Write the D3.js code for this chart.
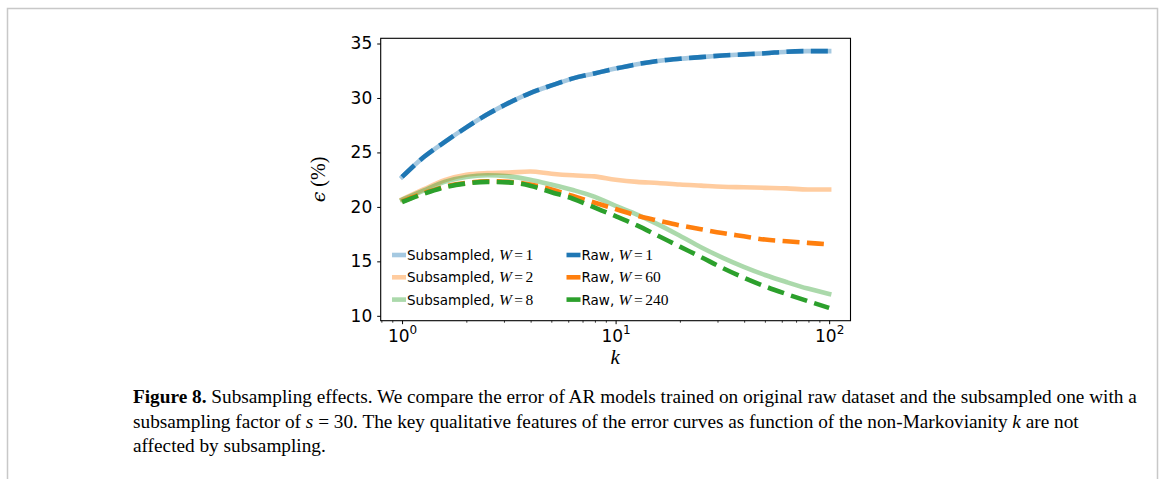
<!DOCTYPE html>
<html>
<head>
<meta charset="utf-8">
<script src="https://cdn.jsdelivr.net/npm/d3@7"></script>
<style>
  html, body { margin: 0; padding: 0; background: #ffffff; }
  svg { display: block; }
</style>
</head>
<body>
<svg id="chart" width="1165" height="479"></svg>
<script>
// ---------------- data ----------------
const kValues = [1, 1.26, 1.58, 2, 2.51, 3.16, 3.98, 5.01, 6.31, 7.94, 10, 12.6, 15.8, 20, 25.1, 31.6, 39.8, 50.1, 63.1, 79.4, 100];

const subW1  = [22.75, 24.55, 25.95, 27.3, 28.5, 29.55, 30.45, 31.15, 31.8, 32.25, 32.7, 33.1, 33.4, 33.6, 33.75, 33.9, 34.0, 34.1, 34.25, 34.3, 34.3];
const subW2  = [20.7, 21.6, 22.45, 22.95, 23.1, 23.15, 23.25, 23.05, 22.9, 22.8, 22.5, 22.3, 22.2, 22.05, 21.95, 21.85, 21.8, 21.75, 21.7, 21.6, 21.6];
const subW8  = [20.65, 21.5, 22.3, 22.75, 22.9, 22.8, 22.5, 22.05, 21.55, 20.95, 20.1, 19.3, 18.4, 17.35, 16.3, 15.35, 14.5, 13.75, 13.1, 12.5, 12.0];
const rawW1  = [22.75, 24.55, 25.95, 27.3, 28.5, 29.55, 30.45, 31.15, 31.8, 32.25, 32.7, 33.1, 33.4, 33.6, 33.75, 33.9, 34.0, 34.1, 34.25, 34.3, 34.3];
const rawW60 = [20.5, 21.25, 21.85, 22.2, 22.35, 22.3, 22.05, 21.6, 21.0, 20.4, 19.8, 19.2, 18.75, 18.3, 17.95, 17.6, 17.3, 17.0, 16.85, 16.7, 16.55];
const rawW240= [20.45, 21.2, 21.8, 22.15, 22.3, 22.25, 21.95, 21.35, 20.75, 19.95, 19.15, 18.3, 17.35, 16.35, 15.4, 14.4, 13.5, 12.7, 12.0, 11.35, 10.73];

const seriesNames = ["Subsampled", "Subsampled", "Subsampled", "Raw", "Raw", "Raw"];
const seriesW = ["1", "2", "8", "1", "60", "240"];
const yTickValues = [10, 15, 20, 25, 30, 35];
const xMajorTicks = [1, 10, 100];

const captionLines = [
  [{t: "Figure 8.", b: true}, {t: " Subsampling effects. We compare the error of AR models trained on original raw dataset and the subsampled one with a"}],
  [{t: "subsampling factor of "}, {t: "s", i: true}, {t: " = 30. The key qualitative features of the error curves as function of the non-Markovianity "}, {t: "k", i: true}, {t: " are not"}],
  [{t: "affected by subsampling."}]
];

// ---------------- layout ----------------
const svg = d3.select("#chart");
const L = 380.7, R = 850.5, T = 38.3, B = 320.7;

// page frame
svg.append("path")
  .attr("d", `M7.5,479 L7.5,8.5 L1157.5,8.5 L1157.5,479`)
  .attr("fill", "none").attr("stroke", "#c8c8c8").attr("stroke-width", 1.5);

// scales with matplotlib-like 5% margins
const allVals = [].concat(subW1, subW2, subW8, rawW1, rawW60, rawW240);
const yMin = d3.min(allVals), yMax = d3.max(allVals);
const yPad = (yMax - yMin) * 0.05;
const lx0 = Math.log10(d3.min(kValues)), lx1 = Math.log10(d3.max(kValues));
const xPad = (lx1 - lx0) * 0.05;
const x = d3.scaleLog().domain([Math.pow(10, lx0 - xPad), Math.pow(10, lx1 + xPad)]).range([L, R]);
const y = d3.scaleLinear().domain([yMin - yPad, yMax + yPad]).range([B, T]);

const blue = "#1f77b4", orange = "#ff7f0e", green = "#2ca02c";
const series = [
  {vals: subW1, color: blue, dashed: false},
  {vals: subW2, color: orange, dashed: false},
  {vals: subW8, color: green, dashed: false},
  {vals: rawW1, color: blue, dashed: true},
  {vals: rawW60, color: orange, dashed: true},
  {vals: rawW240, color: green, dashed: true}
];

const line = d3.line().curve(d3.curveMonotoneX).x((d, i) => x(kValues[i])).y(d => y(d));
svg.append("clipPath").attr("id", "plotclip").append("rect")
  .attr("x", L).attr("y", T).attr("width", R - L).attr("height", B - T);
const plot = svg.append("g").attr("clip-path", "url(#plotclip)");

series.forEach(s => {
  const p = plot.append("path")
    .datum(s.vals)
    .attr("d", line)
    .attr("fill", "none")
    .attr("stroke", s.color)
    .attr("stroke-width", 4.6)
    .attr("stroke-linejoin", "round");
  if (s.dashed) {
    p.attr("stroke-dasharray", "17 7.4").attr("stroke-linecap", "butt");
  } else {
    p.attr("stroke-opacity", 0.4).attr("stroke-linecap", "square");
  }
});

// ---------------- axes ----------------
const tickFont = "'DejaVu Sans', sans-serif";
const yAxis = svg.append("g").attr("transform", `translate(${L},0)`)
  .call(d3.axisLeft(y).tickValues(yTickValues).tickSize(3.5).tickPadding(5).tickFormat(d3.format("d")));
yAxis.select(".domain").remove();
yAxis.selectAll("line").attr("stroke", "#000").attr("stroke-width", 1);
yAxis.selectAll("text").attr("font-family", tickFont).attr("font-size", 17).attr("fill", "#000");

const minorTicks = x.ticks().filter(v => !xMajorTicks.includes(v));
const xMinor = svg.append("g").attr("transform", `translate(0,${B})`)
  .call(d3.axisBottom(x).tickValues(minorTicks).tickSize(2).tickFormat(""));
xMinor.select(".domain").remove();
xMinor.selectAll("line").attr("stroke", "#000").attr("stroke-width", 0.8);

const xAxis = svg.append("g").attr("transform", `translate(0,${B})`)
  .call(d3.axisBottom(x).tickValues(xMajorTicks).tickSize(3.5).tickFormat(""));
xAxis.select(".domain").remove();
xAxis.selectAll("line").attr("stroke", "#000").attr("stroke-width", 1);
xAxis.selectAll(".tick").each(function(v) {
  const t = d3.select(this).append("text")
    .attr("x", 0).attr("y", 21)
    .attr("text-anchor", "middle")
    .attr("font-family", tickFont).attr("font-size", 17).attr("fill", "#000");
  t.append("tspan").text("10");
  t.append("tspan").attr("font-size", 12).attr("dy", -7.5).text(String(Math.round(Math.log10(v))));
});

// frame
svg.append("rect").attr("x", L).attr("y", T).attr("width", R - L).attr("height", B - T)
  .attr("fill", "none").attr("stroke", "#000").attr("stroke-width", 1.1);

// axis labels
svg.append("text")
  .attr("x", (L + R) / 2 - 0.5).attr("y", 364)
  .attr("text-anchor", "middle")
  .attr("font-family", "'Liberation Serif', serif").attr("font-style", "italic").attr("font-size", 21)
  .text("k");

const yl = svg.append("text")
  .attr("transform", `translate(325,${(T + B) / 2}) rotate(-90)`)
  .attr("text-anchor", "middle")
  .attr("font-family", "'DejaVu Serif', serif").attr("font-size", 19);
yl.append("tspan").attr("font-style", "italic").text("\u03F5");
yl.append("tspan").attr("font-family", "'Liberation Serif', serif").attr("font-size", 20).text(" (%)");

// ---------------- legend ----------------
const legendCols = [392, 566.5];
const legendRows = [255, 277.3, 299.6];
const mathFont = "'Liberation Serif', serif";
series.forEach((s, i) => {
  const col = Math.floor(i / 3), row = i % 3;
  const lx = legendCols[col], ly = legendRows[row];
  svg.append("line")
    .attr("x1", lx).attr("x2", lx + 14).attr("y1", ly).attr("y2", ly)
    .attr("stroke", s.color).attr("stroke-width", 4.6)
    .attr("stroke-opacity", s.dashed ? 1 : 0.4);
  const t = svg.append("text")
    .attr("x", lx + 15).attr("y", ly + 5)
    .attr("font-family", tickFont).attr("font-size", 13.5).attr("fill", "#000");
  t.append("tspan").text(seriesNames[i] + ", ");
  t.append("tspan").attr("font-family", mathFont).attr("font-style", "italic").attr("font-size", 15.5).text("W");
  t.append("tspan").attr("font-family", mathFont).attr("font-size", 15.5).attr("dx", 2.5).text("=");
  t.append("tspan").attr("font-family", mathFont).attr("font-size", 15.5).attr("dx", 2.5).text(seriesW[i]);
});

// ---------------- caption ----------------
const capX = 133, capBase = [403, 427.5, 452], capWidth = 1004;
const capFont = "'Liberation Serif', 'Times New Roman', serif";
const capNodes = captionLines.map((parts, li) => {
  const t = svg.append("text").attr("x", capX).attr("y", capBase[li])
    .attr("font-family", capFont).attr("font-size", 16).attr("fill", "#000");
  parts.forEach(p => {
    const ts = t.append("tspan").text(p.t);
    if (p.b) ts.attr("font-weight", "bold");
    if (p.i) ts.attr("font-style", "italic");
  });
  return t;
});
const w0 = capNodes[0].node().getComputedTextLength();
const fs = 16 * capWidth / w0;
capNodes.forEach(t => t.attr("font-size", fs));
</script>
</body>
</html>
